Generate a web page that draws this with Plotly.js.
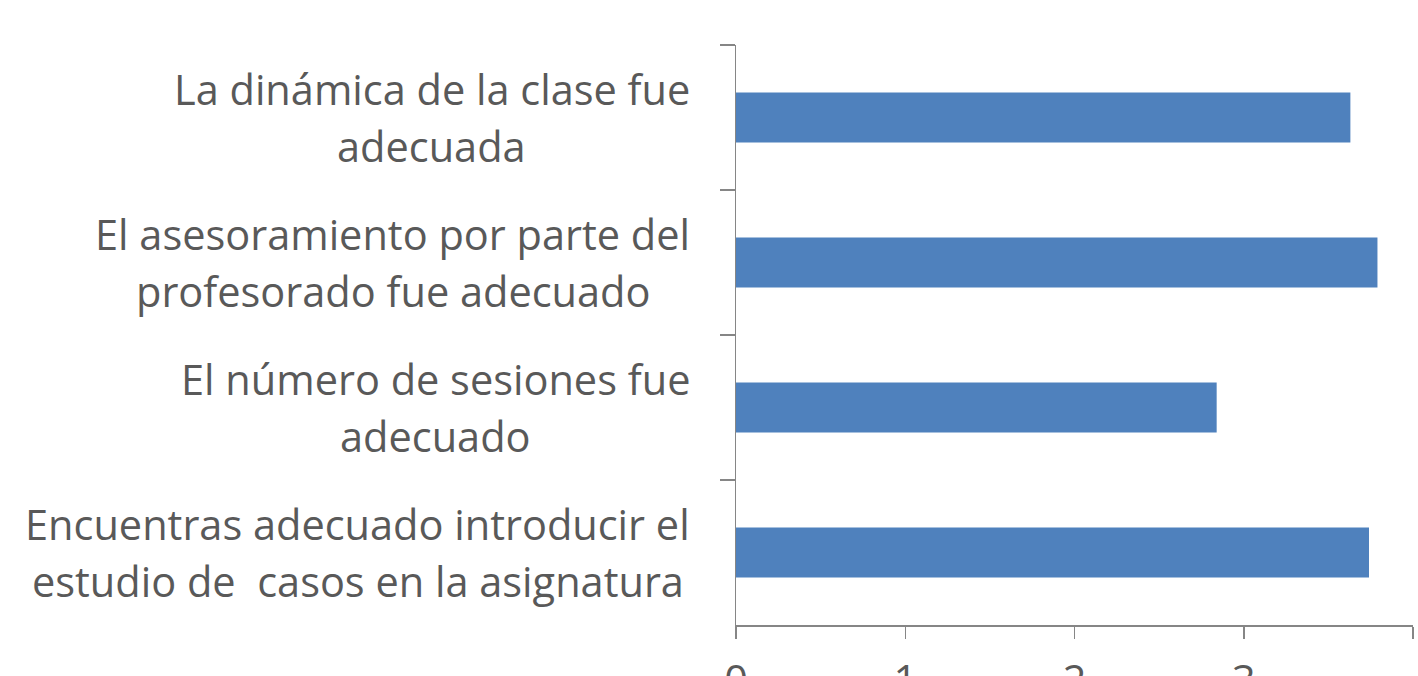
<!DOCTYPE html>
<html>
<head>
<meta charset="utf-8">
<script src="https://cdn.plot.ly/plotly-3.0.1.min.js"></script>
<style>html,body{margin:0;padding:0;background:#fff;}#chart{width:1418px;height:676px;}</style>
</head>
<body>
<div id="chart"></div>
<script>
// Categories, top to bottom as shown
const categories = [
  "La dinámica de la clase fue<br>adecuada",
  "El asesoramiento por parte del<br>profesorado fue adecuado",
  "El número de sesiones fue<br>adecuado",
  "Encuentras adecuado introducir el<br>estudio de  casos en la asignatura"
];
const values = [3.63, 3.79, 2.84, 3.74];
const xTickVals = [0, 1, 2, 3, 4];
const xTickText = ["0", "1", "2", "3", "4"];

const FONT = "Open Sans";
const FS = 41.5;
const GRAY = "#595959";
const LINE = 57;

const ids = categories.map((c, i) => "c" + i);

const annotations = [];
categories.forEach((c, i) => {
  const lines = c.split("<br>");
  const n = lines.length;
  lines.forEach((ln, k) => {
    annotations.push({
      xref: "paper", yref: "y", x: 0, y: ids[i],
      xanchor: "right", yanchor: "middle",
      xshift: -44,
      yshift: ((n - 1) / 2 - k) * LINE,
      text: ln, showarrow: false, align: "center",
      font: {family: FONT, size: FS, color: GRAY}
    });
  });
});

const data = [{
  type: "bar", orientation: "h",
  x: values, y: ids,
  marker: {color: "#4F81BD"},
  hoverinfo: "x"
}];

const layout = {
  width: 1418, height: 676,
  margin: {l: 736, r: 5, t: 45, b: 51},
  paper_bgcolor: "#fff", plot_bgcolor: "#fff",
  showlegend: false,
  bargap: 0.655,
  xaxis: {
    range: [0, 4], tickvals: xTickVals, ticktext: xTickText,
    showgrid: false, zeroline: false,
    showline: true, linecolor: "#868686", linewidth: 1.5,
    ticks: "outside", ticklen: 12, tickcolor: "#868686", tickwidth: 1.5,
    ticklabelstandoff: 7,
    tickfont: {family: FONT, size: FS, color: GRAY},
    fixedrange: true
  },
  yaxis: {
    type: "category", autorange: "reversed",
    showticklabels: false,
    showgrid: false, zeroline: false,
    showline: true, linecolor: "#868686", linewidth: 1.5,
    ticks: "outside", ticklen: 15, tickcolor: "#868686", tickwidth: 1.5,
    tickson: "boundaries",
    fixedrange: true
  },
  annotations: annotations
};

Plotly.newPlot("chart", data, layout, {displayModeBar: false, staticPlot: true}).then(() => {
  // centre the lines of each multi-line label on each other
  const gd = document.getElementById("chart");
  const anns = gd.querySelectorAll(".annotation");
  let idx = 0;
  const newAnns = JSON.parse(JSON.stringify(layout.annotations));
  const widths = [];
  anns.forEach(a => {
    const t = a.querySelector("text");
    widths.push(t ? t.getBBox().width : 0);
  });
  categories.forEach((c, i) => {
    const n = c.split("<br>").length;
    const w = widths.slice(idx, idx + n);
    const maxW = Math.max(...w);
    for (let k = 0; k < n; k++) {
      newAnns[idx + k].xshift = -44 - (maxW - w[k]) / 2;
    }
    idx += n;
  });
  Plotly.relayout(gd, {annotations: newAnns});
});
</script>
</body>
</html>
